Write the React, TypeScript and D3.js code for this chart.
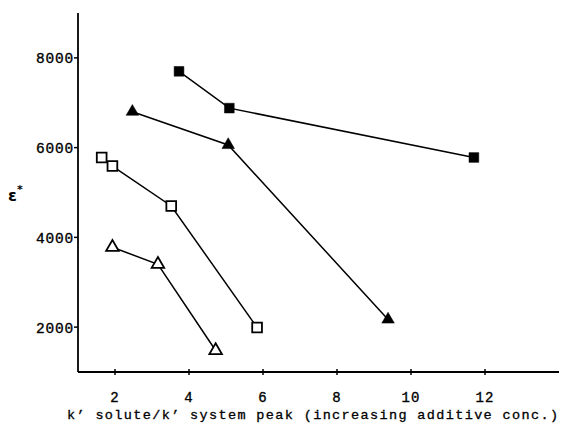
import React from "react";
import * as d3 from "d3";

const filledSquareX = [3.73, 5.09, 11.7];
const filledSquareY = [7700, 6880, 5780];
const filledTriangleX = [2.47, 5.06, 9.38];
const filledTriangleY = [6800, 6060, 2170];
const openSquareX = [1.64, 1.93, 3.52, 5.84];
const openSquareY = [5780, 5590, 4700, 1990];
const openTriangleX = [1.93, 3.16, 4.72];
const openTriangleY = [3780, 3400, 1480];

const xTicks = [2, 4, 6, 8, 10, 12];
const yTicks = [2000, 4000, 6000, 8000];
const xTitle = "k\u2019 solute/k\u2019 system peak (increasing additive conc.)";
const yTitle = "\u03b5";

const W = 566, H = 424;
const left = 78, right = 559, top = 13, bottom = 372;

export default function App() {
  const x = d3.scaleLinear().domain([1, 14]).range([left, right]);
  const y = d3.scaleLinear().domain([1000, 9000]).range([bottom, top]);
  const line = d3.line<[number, number]>().x(d => x(d[0])).y(d => y(d[1]));

  const series = [
    { xs: filledSquareX, ys: filledSquareY, shape: "square", filled: true },
    { xs: filledTriangleX, ys: filledTriangleY, shape: "triangle", filled: true },
    { xs: openSquareX, ys: openSquareY, shape: "square", filled: false },
    { xs: openTriangleX, ys: openTriangleY, shape: "triangle", filled: false },
  ];
  const sq = d3.symbol().type(d3.symbolSquare).size(95)();
  const tri = d3.symbol().type(d3.symbolTriangle).size(68)();
  const font = "'Liberation Mono', 'DejaVu Sans Mono', monospace";

  return (
    <div style={{ position: "absolute", left: 0, top: 0 }}>
      <svg width={W} height={H} style={{ display: "block", background: "#fff" }}>
        <rect width={W} height={H} fill="#fff" />
        <line x1={left} x2={left} y1={top} y2={bottom} stroke="#000" strokeWidth={1.8} />
        <line x1={left} x2={right} y1={bottom} y2={bottom} stroke="#000" strokeWidth={1.8} />
        {yTicks.map(t => (
          <g key={"y" + t}>
            <line x1={left - 4} x2={left} y1={y(t)} y2={y(t)} stroke="#000" strokeWidth={1.5} />
            <text x={74} y={y(t) + 5.5} textAnchor="end" fontFamily={font} fontSize={14.5} letterSpacing={0.8}
              fill="#000" stroke="#000" strokeWidth={0.35}>{t}</text>
          </g>
        ))}
        {xTicks.map(t => (
          <g key={"x" + t}>
            <line x1={x(t)} x2={x(t)} y1={bottom - 3} y2={bottom + 3} stroke="#000" strokeWidth={1.5} />
            <text x={x(t)} y={402} textAnchor="middle" fontFamily={font} fontSize={14} letterSpacing={1}
              fill="#000" stroke="#000" strokeWidth={0.35}>{t}</text>
          </g>
        ))}
        <text x={67} y={419} fontFamily={font} fontSize={13.5} textLength={491} lengthAdjust="spacing"
          fill="#000" stroke="#000" strokeWidth={0.3}>{xTitle}</text>
        <text x={8} y={201} fontFamily="'DejaVu Sans', sans-serif" fontWeight="bold" fontSize={16} fill="#000">
          {yTitle}
          <tspan dy={-8} fontSize={11}>*</tspan>
        </text>
        {series.map((s, i) => {
          const pts = s.xs.map((v, j) => [v, s.ys[j]] as [number, number]);
          return (
            <g key={"s" + i}>
              <path d={line(pts) || ""} fill="none" stroke="#000" strokeWidth={1.5} />
              {pts.map((p, j) => (
                <path key={j}
                  transform={`translate(${x(p[0])},${y(p[1])})`}
                  d={s.shape === "square" ? sq || "" : tri || ""}
                  fill={s.filled ? "#000" : "#fff"}
                  stroke="#000" strokeWidth={s.filled ? 0.5 : 1.8} />
              ))}
            </g>
          );
        })}
      </svg>
    </div>
  );
}
